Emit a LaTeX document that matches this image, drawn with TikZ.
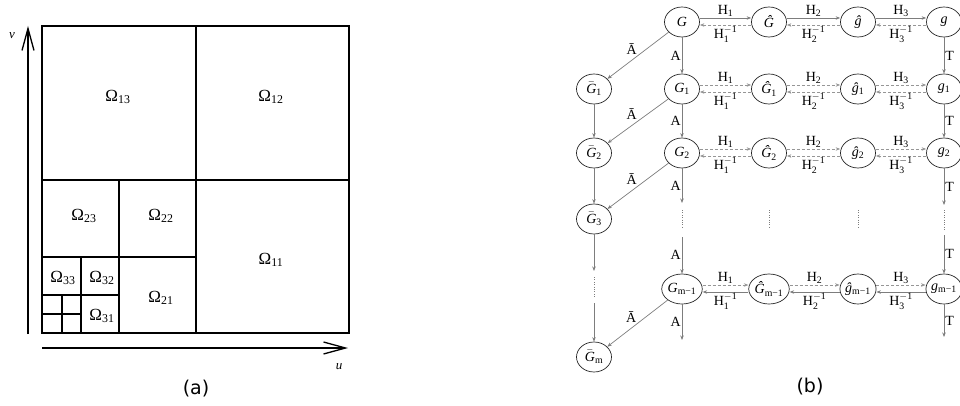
\documentclass[tikz,border=0pt]{standalone}
\usepackage{amsmath,amssymb}
\usepackage{fontspec}
\setmainfont{Liberation Serif}
\newfontfamily\capfont{DejaVu Sans}
\usetikzlibrary{arrows.meta,shapes.geometric,positioning}
\definecolor{edgegray}{RGB}{125,125,125}
\definecolor{dashgray}{RGB}{150,150,150}
\newcommand{\Gbar}{$\bar{\text{\textit{G}}}$}

\begin{document}
\begin{tikzpicture}[x=1pt, y=-1pt, >=Stealth,
      grid/.style={line width=1.2pt},
      axis/.style={line width=1.3pt, -{Straight Barb[length=22pt,width=12pt]}},
      part/.style={font=\fontsize{17}{19}\selectfont},
      gnode/.style={draw=black!85, ellipse, line width=0.7pt, minimum width=35pt,
                    minimum height=30pt, inner sep=0pt, font=\fontsize{14}{16}\selectfont},
      solidarr/.style={-{Stealth[length=4.5pt,width=3.5pt]}, edgegray, line width=0.7pt},
      dasharr/.style={solidarr, dashgray, dash pattern=on 3pt off 2pt},
      elabel/.style={font=\fontsize{14}{16}\selectfont, text=black, inner sep=1pt},
      vdots/.style={edgegray, line width=0.7pt, dash pattern=on 0.8pt off 1.6pt},
      caption/.style={font=\capfont\fontsize{19}{22}\selectfont}
    ]
    \clip (0,0) rectangle (960,406);

    % (a) subdivided square
    \draw[grid] (42,26) rectangle (349,333);
    \draw[grid] (196,26) -- (196,333);
    \draw[grid] (42,180) -- (349,180);
    \draw[grid] (119,180) -- (119,333);
    \draw[grid] (42,257) -- (196,257);
    \draw[grid] (81,257) -- (81,333);
    \draw[grid] (42,295) -- (119,295);
    \draw[grid] (62,295) -- (62,333);
    \draw[grid] (42,314) -- (81,314);

    \node[part] (om13) at (118,97) {Ω\textsubscript{13}};
    \node[part] (om12) at (271,97) {Ω\textsubscript{12}};
    \node[part] (om11) at (271,260) {Ω\textsubscript{11}};
    \node[part] (om23) at (84,216) {Ω\textsubscript{23}};
    \node[part] (om22) at (161,216) {Ω\textsubscript{22}};
    \node[part] (om21) at (161,298) {Ω\textsubscript{21}};
    \node[part] (om33) at (63,278) {Ω\textsubscript{33}};
    \node[part] (om32) at (102,278) {Ω\textsubscript{32}};
    \node[part] (om31) at (102,316) {Ω\textsubscript{31}};

    \coordinate (vbot) at (28,334);
    \coordinate (vtop) at (28,26);
    \draw[axis] (vbot) -- (vtop);
    \node[font=\fontsize{13}{15}\selectfont] (vlab) at (12,36) {\textit{v}};
    \coordinate (uleft) at (42,348);
    \coordinate (uright) at (348,348);
    \draw[axis] (uleft) -- (uright);
    \node[font=\fontsize{13}{15}\selectfont] (ulab) at (339,367) {\textit{u}};
    \node[caption] (capa) at (196,389) {(a)};

    % (b) nodes
    \node[gnode] (G)   at (682,22)  {\textit{G}};
    \node[gnode] (Gh)  at (769,22)  {\textit{Ĝ}};
    \node[gnode] (gh)  at (858,22)  {\textit{ĝ}};
    \node[gnode] (g)   at (944,22)  {\textit{g}};
    \node[gnode] (G1)  at (682,89)  {\textit{G}\textsubscript{1}};
    \node[gnode] (Gh1) at (769,89)  {\textit{Ĝ}\textsubscript{1}};
    \node[gnode] (gh1) at (858,89)  {\textit{ĝ}\textsubscript{1}};
    \node[gnode] (g1)  at (944,89)  {\textit{g}\textsubscript{1}};
    \node[gnode] (G2)  at (682,153) {\textit{G}\textsubscript{2}};
    \node[gnode] (Gh2) at (769,153) {\textit{Ĝ}\textsubscript{2}};
    \node[gnode] (gh2) at (858,153) {\textit{ĝ}\textsubscript{2}};
    \node[gnode] (g2)  at (944,153) {\textit{g}\textsubscript{2}};
    \node[gnode] (Gm1)  at (682,289) {\textit{G}\textsubscript{m−1}};
    \node[gnode] (Ghm1) at (769,289) {\textit{Ĝ}\textsubscript{m−1}};
    \node[gnode] (ghm1) at (858,289) {\textit{ĝ}\textsubscript{m−1}};
    \node[gnode] (gm1)  at (944,289) {\textit{g}\textsubscript{m−1}};
    \node[gnode] (Gb1) at (594,89)  {\Gbar\textsubscript{1}};
    \node[gnode] (Gb2) at (594,153) {\Gbar\textsubscript{2}};
    \node[gnode] (Gb3) at (594,219) {\Gbar\textsubscript{3}};
    \node[gnode] (Gbm) at (594,357) {\Gbar\textsubscript{m}};

    % rows: H forward above, inverse below
    \draw[solidarr] ([yshift=4pt]G.east) -- node[elabel, above] {H\textsubscript{1}} ([yshift=4pt]Gh.west);
    \draw[dasharr] ([yshift=-3pt]Gh.west) -- node[elabel, below] {$\text{H}_{\text{1}}^{-\text{1}}$} ([yshift=-3pt]G.east);
    \draw[solidarr] ([yshift=4pt]Gh.east) -- node[elabel, above] {H\textsubscript{2}} ([yshift=4pt]gh.west);
    \draw[dasharr] ([yshift=-3pt]gh.west) -- node[elabel, below] {$\text{H}_{\text{2}}^{-\text{1}}$} ([yshift=-3pt]Gh.east);
    \draw[solidarr] ([yshift=4pt]gh.east) -- node[elabel, above] {H\textsubscript{3}} ([yshift=4pt]g.west);
    \draw[dasharr] ([yshift=-3pt]g.west) -- node[elabel, below] {$\text{H}_{\text{3}}^{-\text{1}}$} ([yshift=-3pt]gh.east);

    \draw[dasharr] ([yshift=4pt]G1.east) -- node[elabel, above] {H\textsubscript{1}} ([yshift=4pt]Gh1.west);
    \draw[dasharr] ([yshift=-3pt]Gh1.west) -- node[elabel, below] {$\text{H}_{\text{1}}^{-\text{1}}$} ([yshift=-3pt]G1.east);
    \draw[dasharr] ([yshift=4pt]Gh1.east) -- node[elabel, above] {H\textsubscript{2}} ([yshift=4pt]gh1.west);
    \draw[dasharr] ([yshift=-3pt]gh1.west) -- node[elabel, below] {$\text{H}_{\text{2}}^{-\text{1}}$} ([yshift=-3pt]Gh1.east);
    \draw[dasharr] ([yshift=4pt]gh1.east) -- node[elabel, above] {H\textsubscript{3}} ([yshift=4pt]g1.west);
    \draw[dasharr] ([yshift=-3pt]g1.west) -- node[elabel, below] {$\text{H}_{\text{3}}^{-\text{1}}$} ([yshift=-3pt]gh1.east);

    \draw[dasharr] ([yshift=4pt]G2.east) -- node[elabel, above] {H\textsubscript{1}} ([yshift=4pt]Gh2.west);
    \draw[dasharr] ([yshift=-3pt]Gh2.west) -- node[elabel, below] {$\text{H}_{\text{1}}^{-\text{1}}$} ([yshift=-3pt]G2.east);
    \draw[dasharr] ([yshift=4pt]Gh2.east) -- node[elabel, above] {H\textsubscript{2}} ([yshift=4pt]gh2.west);
    \draw[dasharr] ([yshift=-3pt]gh2.west) -- node[elabel, below] {$\text{H}_{\text{2}}^{-\text{1}}$} ([yshift=-3pt]Gh2.east);
    \draw[dasharr] ([yshift=4pt]gh2.east) -- node[elabel, above] {H\textsubscript{3}} ([yshift=4pt]g2.west);
    \draw[dasharr] ([yshift=-3pt]g2.west) -- node[elabel, below] {$\text{H}_{\text{3}}^{-\text{1}}$} ([yshift=-3pt]gh2.east);

    \draw[dasharr] ([yshift=4pt]Gm1.east) -- node[elabel, above] {H\textsubscript{1}} ([yshift=4pt]Ghm1.west);
    \draw[solidarr] ([yshift=-3pt]Ghm1.west) -- node[elabel, below] {$\text{H}_{\text{1}}^{-\text{1}}$} ([yshift=-3pt]Gm1.east);
    \draw[dasharr] ([yshift=4pt]Ghm1.east) -- node[elabel, above] {H\textsubscript{2}} ([yshift=4pt]ghm1.west);
    \draw[solidarr] ([yshift=-3pt]ghm1.west) -- node[elabel, below] {$\text{H}_{\text{2}}^{-\text{1}}$} ([yshift=-3pt]Ghm1.east);
    \draw[dasharr] ([yshift=4pt]ghm1.east) -- node[elabel, above] {H\textsubscript{3}} ([yshift=4pt]gm1.west);
    \draw[solidarr] ([yshift=-3pt]gm1.west) -- node[elabel, below] {$\text{H}_{\text{3}}^{-\text{1}}$} ([yshift=-3pt]ghm1.east);

    % G column (A) and diagonals (A bar)
    \coordinate (aend) at (682,203);
    \coordinate (astart) at (682,237);
    \coordinate (alast) at (682,340);
    \draw[solidarr] (G) -- node[elabel, left] {A} (G1);
    \draw[solidarr] (G1) -- node[elabel, left] {A} (G2);
    \draw[solidarr] (G2) -- node[elabel, left] {A} (aend);
    \draw[solidarr] (astart) -- node[elabel, left] {A} (Gm1);
    \draw[solidarr] (Gm1) -- node[elabel, left] {A} (alast);

    \draw[solidarr] (G) -- node[elabel, above left] {Ā} (Gb1);
    \draw[solidarr] (G1) -- node[elabel, above left] {Ā} (Gb2);
    \draw[solidarr] (G2) -- node[elabel, above left] {Ā} (Gb3);
    \draw[solidarr] (Gm1) -- node[elabel, above left] {Ā} (Gbm);

    % G bar column
    \coordinate (bend) at (594,271);
    \coordinate (bstart) at (594,303);
    \draw[solidarr] (Gb1) -- (Gb2);
    \draw[solidarr] (Gb2) -- (Gb3);
    \draw[solidarr] (Gb3) -- (bend);
    \draw[vdots] (594,277) -- (594,297);
    \draw[solidarr] (bstart) -- (Gbm);

    % g column (T)
    \coordinate (tend) at (944,205);
    \coordinate (tstart) at (944,235);
    \coordinate (tlast) at (944,337);
    \draw[solidarr] (g) -- node[elabel, right] {T} (g1);
    \draw[solidarr] (g1) -- node[elabel, right] {T} (g2);
    \draw[solidarr] (g2) -- node[elabel, right] {T} (tend);
    \draw[solidarr] (tstart) -- node[elabel, right] {T} (gm1);
    \draw[solidarr] (gm1) -- node[elabel, right] {T} (tlast);

    % vertical dots between row 2 and row m-1
    \draw[vdots] (682,210) -- (682,229);
    \draw[vdots] (769,210) -- (769,229);
    \draw[vdots] (858,210) -- (858,229);
    \draw[vdots] (944,210) -- (944,230);

    \node[caption] (capb) at (810,387) {(b)};
  \end{tikzpicture}
\end{document}
